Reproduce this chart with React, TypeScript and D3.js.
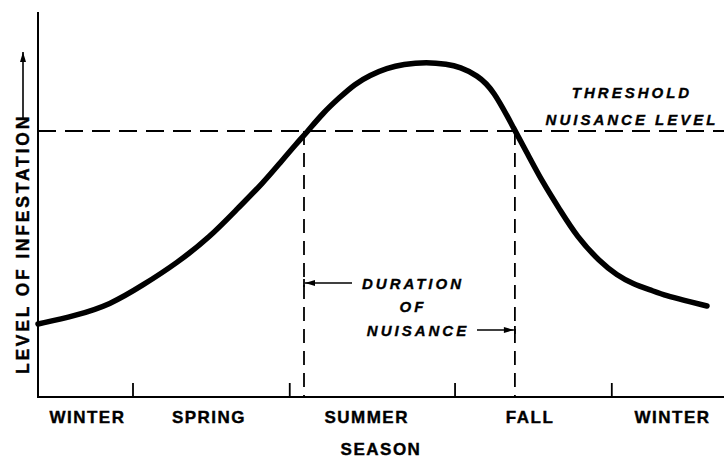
import React, { useEffect, useRef } from 'react'
import * as d3 from 'd3'

// Season along x, in days from start of winter
const seasonLabels = ['WINTER', 'SPRING', 'SUMMER', 'FALL', 'WINTER']
const seasonLabelDays = [26, 90, 173, 259, 334]
const seasonTickDays = [50, 132.5, 219.5, 302]

// Level of infestation (relative, 0-100)
const curveDays = [0, 19.5, 37.9, 55.3, 73.2, 90.5, 105.3, 118.4, 127.4, 136.3, 141.6, 150, 158.9, 166.8, 174.7, 183.7, 192.1, 204.7, 215.3, 222.1, 231.1, 239.5, 251.1, 257.4, 265.8, 274.7, 283.7, 295.8, 304.7, 313.2, 322.1, 331.1, 339.5, 352.1]
const curveLevels = [19.9, 22.1, 25.1, 30.5, 36.5, 43.6, 51.5, 58.3, 63.8, 69.2, 72.2, 77.4, 81.7, 85.3, 87.7, 89.6, 90.7, 91.3, 90.7, 89.9, 87.7, 83.9, 72.5, 66.5, 58.3, 51, 43.6, 36.8, 33.2, 30.8, 29.2, 27.5, 26.4, 24.8]

const thresholdLevel = 72.5
const nuisanceStartDay = 140
const nuisanceEndDay = 251

export default function App() {
  const svgRef = useRef<SVGSVGElement>(null)

  useEffect(() => {
    if (!svgRef.current) return
    const width = 724
    const height = 458
    const axisX = 38
    const axisY = 397
    const font = '"Liberation Sans", Arial, sans-serif'

    const x = d3.scaleLinear().domain([0, 360]).range([axisX, 722])
    const y = d3.scaleLinear().domain([0, 100]).range([axisY, 30])

    const svg = d3.select(svgRef.current)
      .attr('width', width)
      .attr('height', height)
      .attr('viewBox', `0 0 ${width} ${height}`)

    svg.selectAll('*').remove()

    const defs = svg.append('defs')
    defs.append('marker')
      .attr('id', 'arrow')
      .attr('viewBox', '0 0 10 6')
      .attr('refX', 10)
      .attr('refY', 3)
      .attr('markerWidth', 12)
      .attr('markerHeight', 6)
      .attr('markerUnits', 'userSpaceOnUse')
      .attr('orient', 'auto')
      .append('path')
      .attr('d', 'M0,0 L10,3 L0,6 Z')
      .attr('fill', '#000')

    svg.append('rect').attr('width', width).attr('height', height).attr('fill', '#fff')

    // Axes
    svg.append('line')
      .attr('x1', axisX).attr('x2', axisX)
      .attr('y1', 12).attr('y2', axisY)
      .attr('stroke', '#000').attr('stroke-width', 2)
    svg.append('line')
      .attr('x1', axisX - 1).attr('x2', width)
      .attr('y1', axisY).attr('y2', axisY)
      .attr('stroke', '#000').attr('stroke-width', 2)

    svg.selectAll('line.tick')
      .data(seasonTickDays)
      .enter().append('line')
      .attr('class', 'tick')
      .attr('x1', d => x(d)).attr('x2', d => x(d))
      .attr('y1', axisY).attr('y2', axisY - 14)
      .attr('stroke', '#000').attr('stroke-width', 1.8)

    // Season labels
    svg.selectAll('text.season')
      .data(seasonLabels)
      .enter().append('text')
      .attr('class', 'season')
      .attr('x', (d, i) => x(seasonLabelDays[i]))
      .attr('y', 423)
      .attr('text-anchor', 'middle')
      .attr('stroke', '#000')
      .attr('stroke-width', 0.4)
      .style('font-family', font)
      .style('font-size', '17px')
      .style('font-weight', 'bold')
      .style('letter-spacing', '1.5px')
      .text(d => d)

    svg.append('text')
      .attr('x', 381)
      .attr('y', 455)
      .attr('text-anchor', 'middle')
      .attr('stroke', '#000')
      .attr('stroke-width', 0.4)
      .style('font-family', font)
      .style('font-size', '17px')
      .style('font-weight', 'bold')
      .style('letter-spacing', '1.5px')
      .text('SEASON')

    // Y label with arrow
    svg.append('text')
      .attr('transform', 'translate(29,244) rotate(-90)')
      .attr('text-anchor', 'middle')
      .attr('stroke', '#000')
      .attr('stroke-width', 0.4)
      .style('font-family', font)
      .style('font-size', '17.5px')
      .style('font-weight', 'bold')
      .style('letter-spacing', '2.8px')
      .text('LEVEL OF INFESTATION')
    svg.append('line')
      .attr('x1', 23).attr('x2', 23)
      .attr('y1', 118).attr('y2', 52)
      .attr('stroke', '#000').attr('stroke-width', 1.6)
      .attr('marker-end', 'url(#arrow)')

    // Threshold line
    svg.append('line')
      .attr('x1', axisX).attr('x2', width)
      .attr('y1', y(thresholdLevel)).attr('y2', y(thresholdLevel))
      .attr('stroke', '#000').attr('stroke-width', 2)
      .attr('stroke-dasharray', '18,9')

    // Duration verticals
    svg.selectAll('line.duration')
      .data([nuisanceStartDay, nuisanceEndDay])
      .enter().append('line')
      .attr('class', 'duration')
      .attr('x1', d => x(d)).attr('x2', d => x(d))
      .attr('y1', y(thresholdLevel)).attr('y2', axisY)
      .attr('stroke', '#000').attr('stroke-width', 1.8)
      .attr('stroke-dasharray', '14,8')

    // Infestation curve (smoothed through the read-off points)
    const line = d3.line<number>()
      .x((d, i) => x(curveDays[i]))
      .y(d => y(d))
      .curve(d3.curveBasis)

    svg.append('path')
      .datum(curveLevels)
      .attr('d', line)
      .attr('fill', 'none')
      .attr('stroke', '#000')
      .attr('stroke-width', 5.5)
      .attr('stroke-linecap', 'round')

    // Annotations
    const italic = (sel: d3.Selection<SVGTextElement, unknown, null, undefined>) =>
      sel.style('font-family', font)
        .style('font-size', '15px')
        .style('font-weight', 'bold')
        .style('font-style', 'italic')
        .style('letter-spacing', '3px')
        .attr('stroke', '#000')
        .attr('stroke-width', 0.35)
        .attr('text-anchor', 'middle')

    italic(svg.append('text').attr('x', 632).attr('y', 98).text('THRESHOLD'))
    italic(svg.append('text').attr('x', 632).attr('y', 125).text('NUISANCE LEVEL'))
    italic(svg.append('text').attr('x', 413).attr('y', 289).text('DURATION'))
    italic(svg.append('text').attr('x', 413).attr('y', 312).text('OF'))
    italic(svg.append('text').attr('x', 418).attr('y', 336).text('NUISANCE'))

    const xs = x(nuisanceStartDay)
    const xe = x(nuisanceEndDay)
    svg.append('line')
      .attr('x1', 352).attr('x2', xs + 1)
      .attr('y1', 283).attr('y2', 283)
      .attr('stroke', '#000').attr('stroke-width', 1.6)
      .attr('marker-end', 'url(#arrow)')
    svg.append('line')
      .attr('x1', xs).attr('x2', xs)
      .attr('y1', 279).attr('y2', 287)
      .attr('stroke', '#000').attr('stroke-width', 1.8)
    svg.append('line')
      .attr('x1', 477).attr('x2', xe - 1)
      .attr('y1', 330).attr('y2', 330)
      .attr('stroke', '#000').attr('stroke-width', 1.6)
      .attr('marker-end', 'url(#arrow)')
    svg.append('line')
      .attr('x1', xe).attr('x2', xe)
      .attr('y1', 326).attr('y2', 334)
      .attr('stroke', '#000').attr('stroke-width', 1.8)
  }, [])

  return (
    <div style={{ position: 'absolute', left: 0, top: 0 }}>
      <svg ref={svgRef} style={{ display: 'block' }}></svg>
    </div>
  )
}
